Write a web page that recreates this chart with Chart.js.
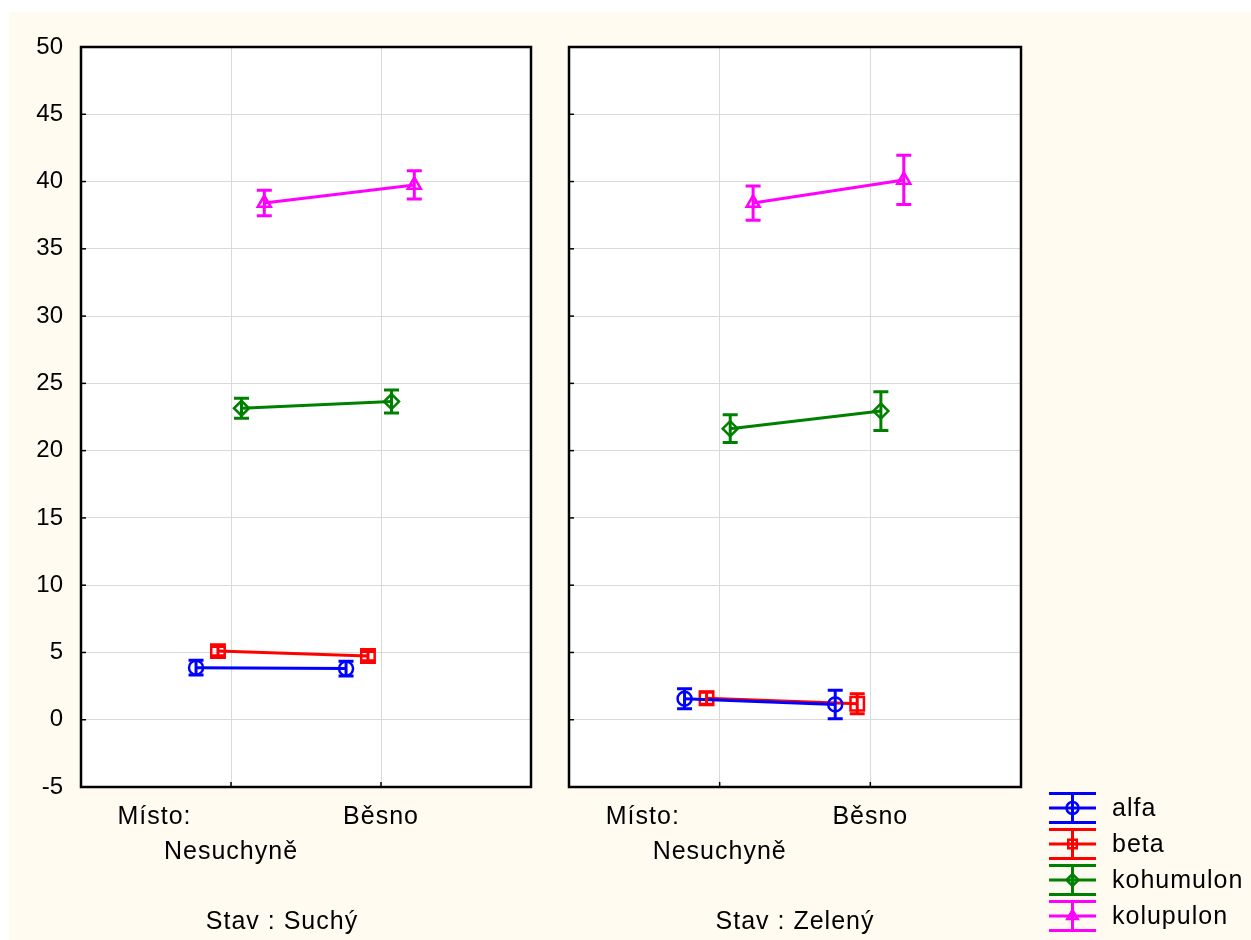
<!DOCTYPE html>
<html>
<head>
<meta charset="utf-8">
<script src="https://cdn.jsdelivr.net/npm/chart.js@4.4.0/dist/chart.umd.min.js"></script>
<style>
    html, body { margin: 0; padding: 0; background: #ffffff; }
    #page { position: absolute; left: 9px; top: 12px; width: 1242px; height: 928px; background: #fffbf0; }
    #c1 { position: absolute; left: 0; top: 0; }
    #c2 { position: absolute; left: 536px; top: 0; }
</style>
</head>
<body>
<div id="page">
    <canvas id="c1" width="536" height="928"></canvas>
    <canvas id="c2" width="706" height="928"></canvas>
</div>
<script>
// --- Data ---
const seriesNames = ['alfa', 'beta', 'kohumulon', 'kolupulon'];
const places = ['Nesuchyně', 'Běsno'];
const states = ['Suchý', 'Zelený'];
const yTicks = [-5, 0, 5, 10, 15, 20, 25, 30, 35, 40, 45, 50];

// means per series: [Nesuchyně, Běsno]
const meansSuchy = [[3.87, 3.80], [5.10, 4.73], [23.15, 23.65], [38.40, 39.75]];
const errSuchy = [[0.55, 0.55], [0.35, 0.35], [0.75, 0.85], [0.95, 1.05]];
const meansZeleny = [[1.56, 1.14], [1.60, 1.19], [21.63, 22.94], [38.40, 40.12]];
const errZeleny = [[0.74, 1.06], [0.45, 0.75], [1.03, 1.44], [1.27, 1.83]];

// styling
const seriesColors = ['#0000ff', '#ff0000', '#008000', '#ff00ff'];
const seriesMarkers = ['circle', 'rect', 'rectRot', 'triangle'];
const markerSizes = [7, 9.5, 7.5, 7.5];
const dodge = [-0.233, -0.087, 0.07, 0.222];

const FONT = '"Liberation Sans", Arial, sans-serif';
Chart.defaults.font.family = FONT;
Chart.defaults.color = '#000';

function buildDatasets(means, errs) {
    return seriesNames.map((name, s) => ({
        label: name,
        data: places.map((p, i) => ({ x: i + 1 + dodge[s], y: means[s][i] })),
        errors: errs[s],
        borderColor: seriesColors[s],
        borderWidth: 3,
        pointStyle: seriesMarkers[s],
        pointRadius: markerSizes[s],
        pointBorderWidth: 2.5,
        pointBorderColor: seriesColors[s],
        pointBackgroundColor: 'rgba(0,0,0,0)',
        tension: 0
    }));
}

// white plot area + frame + inner ticks
const framePlugin = {
    id: 'frame',
    beforeDraw(chart) {
        const { ctx, chartArea: a } = chart;
        ctx.save();
        ctx.fillStyle = '#ffffff';
        ctx.fillRect(a.left, a.top, a.right - a.left, a.bottom - a.top);
        ctx.restore();
    },
    afterDraw(chart) {
        const { ctx, chartArea: a, scales: { x, y } } = chart;
        ctx.save();
        ctx.strokeStyle = '#000';
        ctx.lineWidth = 1.5;
        yTicks.forEach(v => {
            const py = y.getPixelForValue(v);
            ctx.beginPath(); ctx.moveTo(a.left, py); ctx.lineTo(a.left + 5, py); ctx.stroke();
        });
        places.forEach((p, i) => {
            const px = x.getPixelForValue(i + 1);
            ctx.beginPath(); ctx.moveTo(px, a.bottom); ctx.lineTo(px, a.bottom - 5); ctx.stroke();
        });
        ctx.lineWidth = 2.5;
        ctx.strokeRect(a.left, a.top, a.right - a.left, a.bottom - a.top);
        ctx.restore();
    }
};

const errorBarsPlugin = {
    id: 'errorBars',
    afterDatasetsDraw(chart) {
        const { ctx, scales: { x, y } } = chart;
        chart.data.datasets.forEach(ds => {
            ctx.save();
            ctx.strokeStyle = ds.borderColor;
            ctx.lineWidth = 3;
            ds.data.forEach((pt, i) => {
                const px = x.getPixelForValue(pt.x);
                const top = y.getPixelForValue(pt.y + ds.errors[i]);
                const bot = y.getPixelForValue(pt.y - ds.errors[i]);
                ctx.beginPath();
                ctx.moveTo(px, top); ctx.lineTo(px, bot);
                ctx.moveTo(px - 7.5, top); ctx.lineTo(px + 7.5, top);
                ctx.moveTo(px - 7.5, bot); ctx.lineTo(px + 7.5, bot);
                ctx.stroke();
            });
            ctx.restore();
        });
    }
};

// category labels under each panel
const labelsPlugin = {
    id: 'panelLabels',
    afterDraw(chart, args, opts) {
        const { ctx, chartArea: a, scales: { x } } = chart;
        ctx.save();
        ctx.fillStyle = '#000';
        ctx.font = '25px ' + FONT;
        ctx.letterSpacing = '1px';
        ctx.textAlign = 'center';
        ctx.textBaseline = 'middle';
        ctx.fillText('Místo:', x.getPixelForValue(0.49), a.bottom + 30);
        ctx.fillText(places[1], x.getPixelForValue(2), a.bottom + 30);
        ctx.fillText(places[0], x.getPixelForValue(1), a.bottom + 65);
        ctx.fillText('Stav : ' + opts.state, (a.left + a.right) / 2 + opts.stateShift, a.bottom + 135);
        ctx.restore();
    }
};

const legendPlugin = {
    id: 'sideLegend',
    afterDraw(chart, args, opts) {
        if (!opts.show) return;
        const ctx = chart.ctx;
        const x0 = 504, x1 = 551, xc = (x0 + x1) / 2;
        ctx.save();
        seriesNames.forEach((name, s) => {
            const yc = 796 + s * 36;
            ctx.strokeStyle = seriesColors[s];
            ctx.lineWidth = 3;
            ctx.beginPath();
            [-14.5, 0, 14.5].forEach(d => { ctx.moveTo(x0, yc + d); ctx.lineTo(x1, yc + d); });
            ctx.moveTo(xc, yc - 14.5); ctx.lineTo(xc, yc + 14.5);
            ctx.stroke();
            ctx.fillStyle = 'rgba(0,0,0,0)';
            ctx.lineWidth = 2.5;
            Chart.helpers.drawPoint(ctx, { pointStyle: seriesMarkers[s], radius: 6, borderWidth: 2.5, rotation: 0 }, xc, yc);
            ctx.fillStyle = '#000';
            ctx.font = '25px ' + FONT;
            ctx.letterSpacing = '1px';
            ctx.textBaseline = 'middle';
            ctx.fillText(name, 567, yc + 1);
        });
        ctx.restore();
    }
};

function makePanel(canvasId, means, errs, state, opts) {
    return new Chart(document.getElementById(canvasId), {
        type: 'line',
        data: { datasets: buildDatasets(means, errs) },
        options: {
            responsive: false,
            animation: false,
            layout: { padding: { top: 35, right: opts.padRight, left: 0, bottom: 0 } },
            plugins: {
                legend: { display: false },
                tooltip: { enabled: false },
                panelLabels: { state: state, stateShift: opts.stateShift },
                sideLegend: { show: opts.legend }
            },
            scales: {
                x: {
                    type: 'linear', min: 0, max: 3,
                    ticks: { display: false, stepSize: 1 },
                    grid: { color: '#d9d9d9', lineWidth: 1, drawTicks: false },
                    border: { display: false },
                    afterFit: scale => { scale.height = 153; }
                },
                y: {
                    min: -5, max: 50,
                    ticks: {
                        display: opts.yLabels, stepSize: 5, padding: 18,
                        font: { size: 24 }, color: '#000'
                    },
                    grid: { color: '#d9d9d9', lineWidth: 1, drawTicks: false },
                    border: { display: false },
                    afterFit: scale => { scale.width = opts.yWidth; }
                }
            }
        },
        plugins: [framePlugin, errorBarsPlugin, labelsPlugin, legendPlugin]
    });
}

makePanel('c1', meansSuchy, errSuchy, states[0], { padRight: 14, yWidth: 72, yLabels: true, stateShift: -24, legend: false });
makePanel('c2', meansZeleny, errZeleny, states[1], { padRight: 230, yWidth: 24, yLabels: false, stateShift: 0, legend: true });
</script>
</body>
</html>
